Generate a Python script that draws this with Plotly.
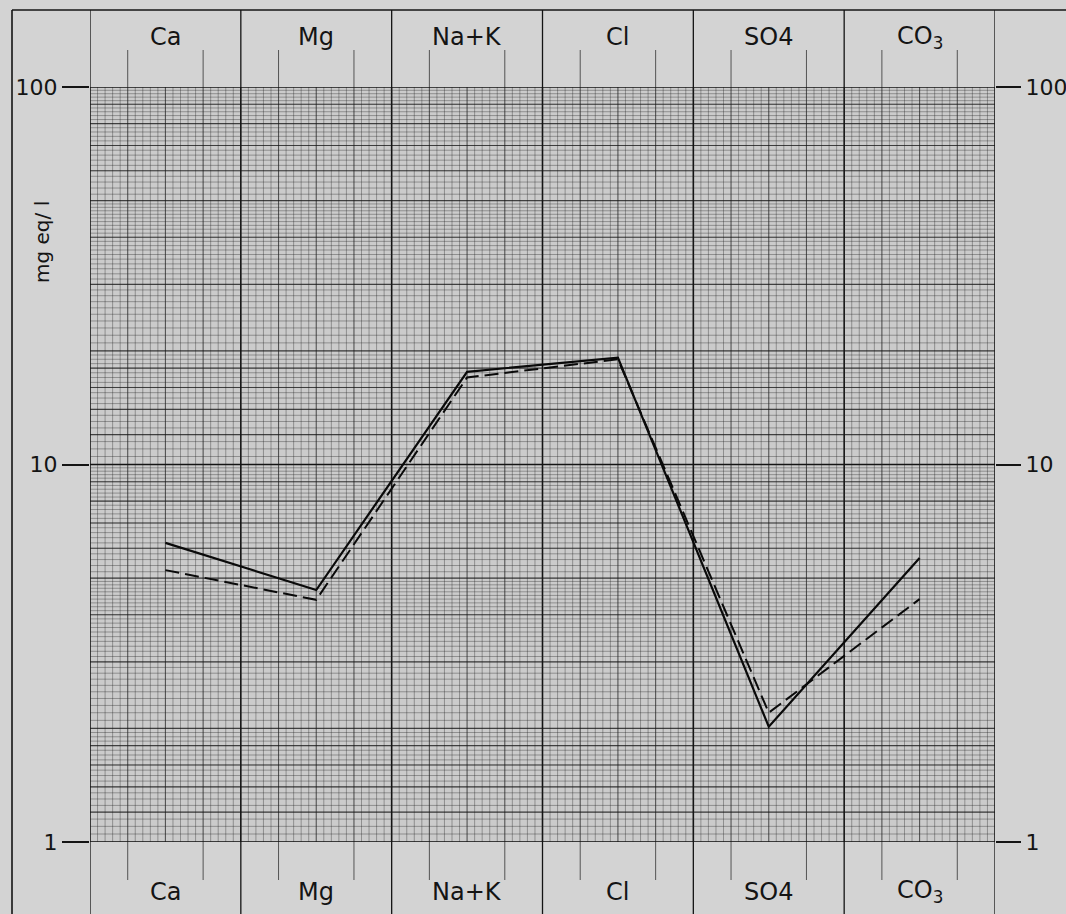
import numpy as np
import plotly.graph_objects as go

# ---------------- data ----------------
ions = ["Ca", "Mg", "Na+K", "Cl", "SO4", "CO3"]
ion_labels = ["Ca", "Mg", "Na+K", "Cl", "SO4", "CO<sub>3</sub>"]
sample_solid = [6.2, 4.65, 17.6, 19.2, 2.02, 5.65]
sample_dashed = [5.25, 4.38, 17.0, 19.0, 2.2, 4.4]
y_tickvals = [1, 10, 100]
y_ticktext = ["1", "10", "100"]

# ---------------- geometry (page pixels) ----------------
W, H = 1066, 914
L, R, T, B = 90, 995, 87, 842
pw, ph = R - L, B - T

def px_x(p):
    return (p - L) / pw

def px_y(p):
    return (B - p) / ph

ncol = len(ions)
x_pos = [i + 0.5 for i in range(ncol)]

PAPER = "#d3d3d3"
INK = "#141414"

fig = go.Figure()

# ---------------- graph-paper grid ----------------
def vlines(xs):
    xx, yy = [], []
    for v in xs:
        xx += [v, v, None]
        yy += [1, 100, None]
    return xx, yy

def hlines(ys):
    xx, yy = [], []
    for v in ys:
        xx += [0, ncol, None]
        yy += [v, v, None]
    return xx, yy

fine_x = [round(v, 3) for v in np.arange(0, ncol + 1e-9, 0.05)
          if abs(v * 4 - round(v * 4)) > 1e-6]
quarter_x = [v / 4 for v in range(0, ncol * 4 + 1) if v % 4 != 0]
edge_x = list(range(0, ncol + 1))

fine_y, med_y = [], []
for d in [1, 10]:
    for v in np.arange(1, 2, 0.05):
        fine_y.append(d * v)
    for v in np.arange(2, 5, 0.1):
        fine_y.append(d * v)
    for v in np.arange(5, 10, 0.2):
        fine_y.append(d * v)
    for v in [1.2, 1.4, 1.6, 1.8, 2, 3, 4, 5, 6, 7, 8, 9]:
        med_y.append(d * v)
dark_y = [1, 10, 100]

FINE = "rgba(35,35,35,0.36)"
MED = "rgba(20,20,20,0.66)"
for xs, col, w in [(fine_x, FINE, 1), (quarter_x, MED, 1.1), (edge_x, INK, 1.6)]:
    gx, gy = vlines(xs)
    fig.add_trace(go.Scatter(x=gx, y=gy, mode="lines", line=dict(color=col, width=w),
                             hoverinfo="skip", showlegend=False))
for ys, col, w in [(fine_y, FINE, 1), (med_y, MED, 1.1), (dark_y, INK, 1.6)]:
    gx, gy = hlines(ys)
    fig.add_trace(go.Scatter(x=gx, y=gy, mode="lines", line=dict(color=col, width=w),
                             hoverinfo="skip", showlegend=False))

# ---------------- data lines ----------------
fig.add_trace(go.Scatter(x=x_pos, y=sample_dashed, mode="lines",
                         line=dict(color="#0a0a0a", width=2, dash="14px,6px"),
                         name="sample 2", showlegend=False))
fig.add_trace(go.Scatter(x=x_pos, y=sample_solid, mode="lines",
                         line=dict(color="#0a0a0a", width=2.2),
                         name="sample 1", showlegend=False))
# invisible trace to activate the right-hand axis
fig.add_trace(go.Scatter(x=x_pos, y=sample_solid, mode="lines", yaxis="y2",
                         line=dict(color="rgba(0,0,0,0)", width=0),
                         hoverinfo="skip", showlegend=False))

# ---------------- bands, borders ----------------
shapes = []
top_band = px_y(10)
top_tick = px_y(50)
bot_band = px_y(914)
bot_tick = px_y(880)
for c in range(ncol + 1):
    shapes.append(dict(type="line", xref="x", yref="paper", x0=c, x1=c, y0=1, y1=top_band,
                       line=dict(color=INK, width=1.3)))
    shapes.append(dict(type="line", xref="x", yref="paper", x0=c, x1=c, y0=0, y1=bot_band,
                       line=dict(color=INK, width=1.3)))
for c in range(ncol):
    for q in (0.25, 0.75):
        shapes.append(dict(type="line", xref="x", yref="paper", x0=c + q, x1=c + q,
                           y0=1, y1=top_tick, line=dict(color="rgba(30,30,30,0.7)", width=1)))
        shapes.append(dict(type="line", xref="x", yref="paper", x0=c + q, x1=c + q,
                           y0=0, y1=bot_tick, line=dict(color="rgba(30,30,30,0.7)", width=1)))
# outer frame
shapes.append(dict(type="line", xref="paper", yref="paper", x0=px_x(12), x1=px_x(12),
                   y0=bot_band, y1=top_band, line=dict(color=INK, width=1.6)))
shapes.append(dict(type="line", xref="paper", yref="paper", x0=px_x(12), x1=px_x(1066),
                   y0=top_band, y1=top_band, line=dict(color=INK, width=1.6)))

annotations = []
lab_font = dict(size=24, color=INK, family="DejaVu Sans")
for xp, lab in zip(x_pos, ion_labels):
    annotations.append(dict(x=xp, xref="x", y=px_y(37), yref="paper", text=lab,
                            showarrow=False, font=lab_font,
                            xanchor="center", yanchor="middle"))
    annotations.append(dict(x=xp, xref="x", y=px_y(892), yref="paper", text=lab,
                            showarrow=False, font=lab_font,
                            xanchor="center", yanchor="middle"))
annotations.append(dict(x=px_x(42), xref="paper", y=px_y(242), yref="paper", text="mg eq/ l",
                        textangle=-90, showarrow=False,
                        font=dict(size=20, color=INK, family="DejaVu Sans"),
                        xanchor="center", yanchor="middle"))

axis_font = dict(size=22, color=INK, family="DejaVu Sans")
fig.update_layout(
    width=W, height=H,
    margin=dict(l=L, r=W - R, t=T, b=H - B, pad=0, autoexpand=False),
    paper_bgcolor=PAPER, plot_bgcolor="#cbcbcb",
    xaxis=dict(range=[0, ncol], showgrid=False, zeroline=False, showticklabels=False,
               ticks="", showline=False, fixedrange=True, automargin=False),
    yaxis=dict(type="log", range=[0, 2], tickvals=y_tickvals, ticktext=y_ticktext,
               showgrid=False, zeroline=False, ticks="outside", ticklen=27,
               tickcolor=INK, tickwidth=1.6, tickfont=axis_font, showline=False,
               automargin=False),
    yaxis2=dict(type="log", range=[0, 2], tickvals=y_tickvals, ticktext=y_ticktext,
                overlaying="y", side="right", showgrid=False, zeroline=False,
                ticks="outside", ticklen=25, tickcolor=INK, tickwidth=1.6,
                tickfont=axis_font, showline=False, automargin=False),
    shapes=shapes,
    annotations=annotations,
    showlegend=False,
)

# remove the default 8px page margin so the figure fills the window exactly
fig.write_html("out.html",
               config={"displayModeBar": False},
               post_script="document.body.style.margin='0';document.body.style.overflow='hidden';")
